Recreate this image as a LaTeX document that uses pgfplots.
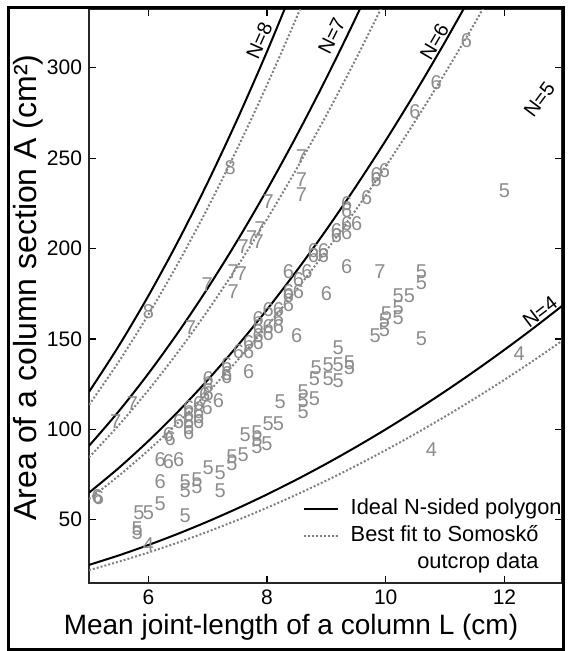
\documentclass[border=0pt]{standalone}
\usepackage{fontspec}
\setmainfont{Liberation Sans}
\usepackage{pgfplots}
\pgfplotsset{compat=1.18}
\begin{document}
\begin{tikzpicture}
\begin{axis}[
  name=ax,
  scale only axis,
  width=236.5pt, height=287pt,
  xmin=5, xmax=12.97, ymin=15, ymax=332.5,
  xtick={6,8,10,12}, ytick={50,100,150,200,250,300},
  /pgf/number format/assume math mode=true,
  ticklabel style={font=\fontsize{10.5}{12}\selectfont},
  major tick length=3.5pt,
  every tick/.style={black, line width=0.6pt},
  axis line style={black!85, line width=0.7pt},
  xlabel={Mean joint-length of a column L (cm)},
  ylabel={Area of a column section A (cm²)},
  xlabel style={font=\fontsize{14}{16}\selectfont, at={(axis description cs:0.427,-0.077)}, anchor=center},
  ylabel style={font=\fontsize{16}{18}\selectfont, at={(axis description cs:-0.129,0.515)}, anchor=center},
  clip=true,
  legend style={at={(axis description cs:1,0.0104)}, anchor=south east, xshift=1.5pt,
    draw=none, fill=none, inner sep=0pt, row sep=0pt,
    font=\fontsize{10.9}{13}\selectfont,
    nodes={inner sep=1.5pt, text height=8pt, text depth=2.5pt},
    /tikz/every odd column/.append style={column sep=4.5pt}},
  legend cell align=left,
]
% Ideal polygons (solid)
\addplot[black, line width=1pt, smooth] coordinates {
(5,25) (5.5,30.25) (6,36) (6.5,42.25) (7,49) (7.5,56.25) (8,64) (8.5,72.25) (9,81) (9.5,90.25) (10,100) (10.5,110.25) (11,121) (11.5,132.25) (12,144) (12.5,156.25) (13,169)};
\addlegendentry{Ideal N-sided polygon}
\addplot[black!50, line width=1pt, dash pattern=on 1pt off 1pt, smooth] coordinates {
(5,22.13) (5.5,26.77) (6,31.86) (6.5,37.39) (7,43.37) (7.5,49.78) (8,56.64) (8.5,63.94) (9,71.69) (9.5,79.87) (10,88.5) (10.5,97.57) (11,107.09) (11.5,117.04) (12,127.44) (12.5,138.28) (13,149.57)};
\addlegendentry{Best fit to Somoskő}
\addlegendimage{empty legend}
\addlegendentry{\hphantom{Best fit to Somoskő}\llap{outcrop data}}
\addplot[black, line width=1pt, smooth, forget plot] coordinates {
(5,64.95) (5.5,78.59) (6,93.53) (6.5,109.77) (7,127.3) (7.5,146.14) (8,166.27) (8.5,187.71) (9,210.44) (9.5,234.47) (10,259.8) (10.5,286.43) (11,314.36) (11.5,343.6)};
\addplot[black!50, line width=1pt, dash pattern=on 1pt off 1pt, smooth, forget plot] coordinates {
(5,61.38) (5.5,74.26) (6,88.38) (6.5,103.72) (7,120.3) (7.5,138.09) (8,157.12) (8.5,177.37) (9,198.86) (9.5,221.56) (10,245.5) (10.5,270.66) (11,297.06) (11.5,324.67) (12,353.52)};
\addplot[black, line width=1pt, smooth, forget plot] coordinates {
(5,90.85) (5.5,109.93) (6,130.82) (6.5,153.54) (7,178.07) (7.5,204.41) (8,232.58) (8.5,262.56) (9,294.35) (9.5,327.97) (10,363.4)};
\addplot[black!50, line width=1pt, dash pattern=on 1pt off 1pt, smooth, forget plot] coordinates {
(5,84.5) (5.5,102.25) (6,121.68) (6.5,142.81) (7,165.62) (7.5,190.13) (8,216.32) (8.5,244.21) (9,273.78) (9.5,305.05) (10,338)};
\addplot[black, line width=1pt, smooth, forget plot] coordinates {
(5,120.7) (5.5,146.05) (6,173.81) (6.5,203.98) (7,236.57) (7.5,271.58) (8,309.0) (8.5,348.82)};
\addplot[black!50, line width=1pt, dash pattern=on 1pt off 1pt, smooth, forget plot] coordinates {
(5,113.5) (5.5,137.34) (6,163.44) (6.5,191.82) (7,222.46) (7.5,255.38) (8,290.56) (8.5,328.02) (9,367.74)};
% Outcrop data (digits = number of sides)
\pgfplotsset{digit/.style={only marks, forget plot, mark=text, text mark={#1}, text mark as node=true,
  color=black!45, text mark style={font=\fontsize{10}{11}\selectfont}}}
\addplot[digit=8] coordinates {(7.38,245) (6.0,165)};
\addplot[digit=7] coordinates {(8.58,251) (8.58,238) (8.58,230) (8.02,226) (7.88,211) (7.74,206) (7.85,204) (7.6,201) (7.43,187) (7.57,186) (6.99,180) (7.43,176) (6.71,156) (5.73,114) (5.45,104) (9.9,187)};
\addplot[digit=6] coordinates {
(11.36,315) (10.85,292) (10.49,276) (9.98,243) (9.84,241) (9.84,238) (9.68,228) (9.34,225) (9.34,221) (9.51,214) (9.34,214) (9.17,210) (9.34,209) (9.17,207) (8.78,199) (8.95,199) (8.78,196) (8.95,196) (9.34,190) (8.36,187) (8.67,187) (8.53,183) (8.36,176) (8.36,174) (8.53,176) (8.36,169) (9.0,175) (8.5,152)
(8.02,166) (7.85,161) (7.85,157) (8.02,157) (7.85,152) (8.02,153) (7.85,148) (7.69,148) (7.69,143) (7.52,143) (8.19,166) (8.19,161) (8.19,157)
(7.69,132) (7.32,136) (7.32,131) (7.32,129) (7.01,128) (7.01,124) (6.95,119) (7.01,120) (7.18,116) (6.99,112) (6.85,114) (6.85,110) (6.85,107) (6.85,104) (6.68,112) (6.68,108) (6.68,104) (6.68,101) (6.51,104) (6.68,98) (6.34,97) (6.37,95) (6.2,83) (6.34,82) (6.51,83) (6.2,71) (5.16,62) (5.14,63)};
\addplot[digit=5] coordinates {
(12.0,232) (10.6,187) (10.6,181) (10.6,150) (10.21,174) (10.4,174) (10.21,167) (10.01,164) (10.21,162) (9.98,160) (9.82,152) (9.98,155) (9.2,145) (8.83,134) (9.03,136) (9.2,136) (9.39,137) (8.8,128) (9.03,128) (9.2,127) (9.39,134) (8.61,121) (8.61,116) (8.61,110) (8.8,117) (8.22,115) (8.02,103) (8.19,103)
(7.63,97) (7.83,98) (7.83,94) (7.83,90.5) (8.0,92) (7.41,85) (7.6,86) (7.41,81) (7.01,79) (7.21,76) (7.21,66) (6.62,71) (6.82,72) (6.62,66) (6.82,68) (6.62,52) (6.2,59) (5.84,54) (6.0,54) (5.81,45) (5.81,43)};
\addplot[digit=4] coordinates {(6.0,36) (10.77,89) (12.25,142)};
% curve labels
\node[rotate=66, font=\fontsize{10}{12}\selectfont] at (axis cs:7.87,315) {N=8};
\node[rotate=63.6, font=\fontsize{10}{12}\selectfont] at (axis cs:9.09,317.7) {N=7};
\node[rotate=59.6, font=\fontsize{10}{12}\selectfont] at (axis cs:10.82,314.4) {N=6};
\node[rotate=53, font=\fontsize{10}{12}\selectfont] at (axis cs:12.59,282.3) {N=5};
\node[rotate=37.4, font=\fontsize{10}{12}\selectfont] at (axis cs:12.6,164.9) {N=4};
\end{axis}
\draw[black, line width=1.5pt] ([shift={(-40.25pt,-33pt)}]ax.south west) rectangle ([shift={(0.5pt,0.5pt)}]ax.north east);
\path ([shift={(-44.5pt,-34pt)}]ax.south west) rectangle ([shift={(2.5pt,4.5pt)}]ax.north east);
\end{tikzpicture}
\end{document}
